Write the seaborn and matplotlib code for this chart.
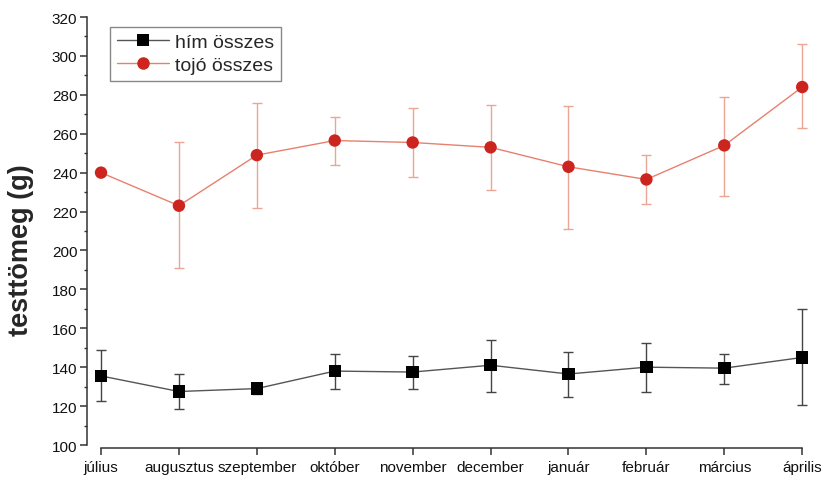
import numpy as np
import pandas as pd
import matplotlib
matplotlib.use("Agg")
import matplotlib.pyplot as plt
from matplotlib.ticker import MultipleLocator
from matplotlib.lines import Line2D
import seaborn as sns

months = ["július", "augusztus", "szeptember", "október", "november",
          "december", "január", "február", "március", "április"]

him_mean = [135.5, 127.5, 129.0, 138.0, 137.5, 141.0, 136.5, 140.0, 139.5, 145.0]
him_upper = [149.0, 136.5, 131.5, 147.0, 145.5, 154.0, 148.0, 152.5, 147.0, 170.0]
him_lower = [122.5, 118.5, 126.0, 129.0, 129.0, 127.5, 124.5, 127.0, 131.5, 120.5]

tojo_mean = [240.0, 223.0, 249.0, 256.5, 255.5, 253.0, 243.0, 236.5, 254.0, 284.0]
tojo_upper = [240.0, 255.5, 276.0, 268.5, 273.0, 275.0, 274.0, 249.0, 279.0, 306.0]
tojo_lower = [240.0, 191.0, 222.0, 244.0, 238.0, 231.0, 211.0, 224.0, 228.0, 263.0]

series_names = ["hím összes", "tojó összes"]
yticks = [100, 120, 140, 160, 180, 200, 220, 240, 260, 280, 300, 320]

sns.set_theme(style="ticks")
plt.rcParams["font.family"] = ["Liberation Sans", "DejaVu Sans"]

pos = np.arange(len(months))
df = pd.DataFrame({
    "pos": np.concatenate([pos, pos]),
    "value": him_mean + tojo_mean,
    "group": [series_names[0]] * len(months) + [series_names[1]] * len(months),
})

fig = plt.figure(figsize=(8.25, 4.81), dpi=100)
ax = fig.add_axes([87 / 825, 1 - 446 / 481, (810 - 87) / 825, (446 - 18) / 481])

line_colors = {series_names[0]: "#555555", series_names[1]: "#E8806E"}
marker_colors = {series_names[0]: "#000000", series_names[1]: "#CC2520"}
err_colors = {series_names[0]: "#444444", series_names[1]: "#EBA595"}

# error bars
for name, mean, lo, hi in [(series_names[0], him_mean, him_lower, him_upper),
                           (series_names[1], tojo_mean, tojo_lower, tojo_upper)]:
    m = np.array(mean)
    yerr = np.vstack([m - np.array(lo), np.array(hi) - m])
    ax.errorbar(pos, m, yerr=yerr, fmt="none", ecolor=err_colors[name],
                elinewidth=1.0, capsize=3.6, capthick=1.0, zorder=2)

sns.lineplot(data=df, x="pos", y="value", hue="group",
             palette=line_colors, linewidth=1.0, ax=ax, zorder=3, legend=False)

sns.scatterplot(data=df, x="pos", y="value", hue="group", style="group",
                markers={series_names[0]: "s", series_names[1]: "o"},
                palette=marker_colors, s=80, linewidth=0, ax=ax, zorder=4,
                legend=False)

ax.set_xlim(-0.18, 9.1)
ax.set_ylim(100, 320)
ax.set_xticks(pos)
ax.set_xticklabels(months, fontsize=11)
ax.set_yticks(yticks)
ax.set_yticklabels([str(v) for v in yticks], fontsize=12)
ax.yaxis.set_minor_locator(MultipleLocator(10))
ax.set_xlabel("")
ax.set_ylabel("testtömeg (g)", fontsize=19.5, fontweight="bold")
ax.yaxis.set_label_coords(-0.073, 0.458)

ax.tick_params(axis="y", which="major", direction="out", length=5, width=1.1,
               color="#333333", pad=2, labelcolor="#111111")
ax.tick_params(axis="y", which="minor", direction="out", length=2.5, width=1.0,
               color="#333333")
ax.tick_params(axis="x", which="major", direction="out", length=5, width=1.1,
               color="#333333", pad=3.5, labelcolor="#111111")

sns.despine(ax=ax, offset={"bottom": 2}, trim=True)
for sp in ["left", "bottom"]:
    ax.spines[sp].set_linewidth(1.1)
    ax.spines[sp].set_color("#333333")

handles = [
    Line2D([], [], color=line_colors[series_names[0]], lw=1.0, marker="s",
           markersize=8, markerfacecolor="#000000", markeredgewidth=0),
    Line2D([], [], color=line_colors[series_names[1]], lw=1.0, marker="o",
           markersize=9, markerfacecolor="#CC2520", markeredgewidth=0),
]
leg = ax.legend(handles, series_names, loc="upper left",
                bbox_to_anchor=(0.032, 0.977), borderaxespad=0,
                fontsize=14, handlelength=2.7, handletextpad=0.3,
                labelspacing=0.25, borderpad=0.35, fancybox=False,
                framealpha=1, edgecolor="#888888")
leg.get_frame().set_linewidth(1.0)

fig.savefig("out.png", dpi=100)
